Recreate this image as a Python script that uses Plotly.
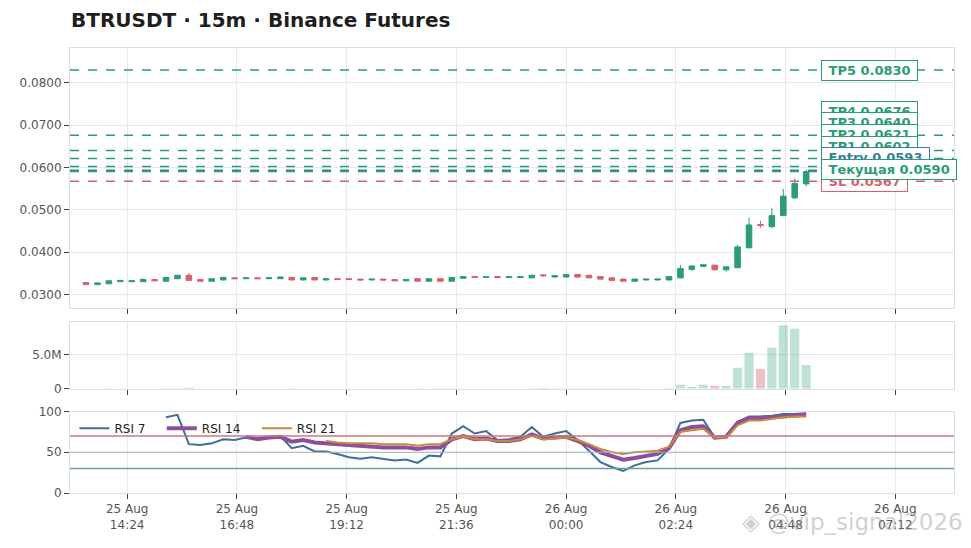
# -*- coding: utf-8 -*-
"""BTRUSDT 15m candles + volume + RSI, signal levels on the right"""
import pandas as pd
import plotly.graph_objects as go
from plotly.subplots import make_subplots

GREEN, RED, BLUE = "#2a9d78", "#d6616b", "#3b7ea1"
GRID, AXIS, TXT = "#e4ebef", "#d6dee3", "#555555"

# ---- data ----
times = pd.date_range("2025-08-25 13:30", periods=64, freq="15min")

opens = [0.0328, 0.0323, 0.0325, 0.0330, 0.0330, 0.0330, 0.0335, 0.0331, 0.0337, 0.0345,
         0.0335, 0.0331, 0.0334, 0.0339, 0.0337, 0.0339, 0.0337, 0.0337, 0.0340, 0.0334,
         0.0340, 0.0334, 0.0337, 0.0337, 0.0336, 0.0334, 0.0336, 0.0335, 0.0332, 0.0337,
         0.0331, 0.0337, 0.0331, 0.0338, 0.0342, 0.0340, 0.0342, 0.0340, 0.0340, 0.0339,
         0.0346, 0.0341, 0.0341, 0.0347, 0.0345, 0.0342, 0.0339, 0.0336, 0.0331, 0.0334,
         0.0334, 0.0334, 0.0339, 0.0359, 0.0366, 0.0369, 0.0358, 0.0363, 0.0410, 0.0465,
         0.0460, 0.0486, 0.0528, 0.0561]
highs = [0.0329, 0.0328, 0.0333, 0.0334, 0.0333, 0.0338, 0.0336, 0.0341, 0.0346, 0.0351,
         0.0336, 0.0338, 0.0341, 0.0340, 0.0340, 0.0340, 0.0340, 0.0342, 0.0341, 0.0340,
         0.0341, 0.0338, 0.0338, 0.0338, 0.0337, 0.0337, 0.0337, 0.0336, 0.0336, 0.0338,
         0.0338, 0.0338, 0.0341, 0.0343, 0.0343, 0.0343, 0.0343, 0.0343, 0.0343, 0.0347,
         0.0348, 0.0346, 0.0348, 0.0348, 0.0346, 0.0343, 0.0340, 0.0337, 0.0337, 0.0337,
         0.0337, 0.0343, 0.0369, 0.0369, 0.0372, 0.0370, 0.0366, 0.0417, 0.0481, 0.0474,
         0.0504, 0.0549, 0.0574, 0.0595]
lows = [0.0322, 0.0322, 0.0324, 0.0329, 0.0329, 0.0329, 0.0331, 0.0330, 0.0336, 0.0332,
        0.0330, 0.0330, 0.0333, 0.0336, 0.0336, 0.0336, 0.0336, 0.0336, 0.0333, 0.0333,
        0.0333, 0.0333, 0.0334, 0.0334, 0.0333, 0.0333, 0.0333, 0.0331, 0.0331, 0.0330,
        0.0330, 0.0330, 0.0330, 0.0337, 0.0339, 0.0339, 0.0339, 0.0339, 0.0339, 0.0338,
        0.0341, 0.0340, 0.0340, 0.0340, 0.0338, 0.0335, 0.0332, 0.0330, 0.0330, 0.0333,
        0.0333, 0.0333, 0.0338, 0.0355, 0.0365, 0.0357, 0.0354, 0.0362, 0.0409, 0.0457,
        0.0456, 0.0485, 0.0525, 0.0555]
closes = [0.0323, 0.0327, 0.0332, 0.0333, 0.0332, 0.0335, 0.0332, 0.0340, 0.0345, 0.0333,
          0.0331, 0.0337, 0.0340, 0.0337, 0.0339, 0.0337, 0.0339, 0.0341, 0.0334, 0.0339,
          0.0334, 0.0337, 0.0335, 0.0335, 0.0334, 0.0336, 0.0334, 0.0332, 0.0335, 0.0331,
          0.0337, 0.0331, 0.0340, 0.0342, 0.0340, 0.0342, 0.0340, 0.0342, 0.0342, 0.0345,
          0.0344, 0.0344, 0.0347, 0.0341, 0.0339, 0.0336, 0.0333, 0.0331, 0.0336, 0.0336,
          0.0336, 0.0342, 0.0361, 0.0367, 0.0370, 0.0358, 0.0365, 0.0412, 0.0464, 0.0463,
          0.0486, 0.0532, 0.0562, 0.0590]
volumes = [35e3, 28e3, 40e3, 22e3, 18e3, 30e3, 15e3, 45e3, 60e3, 150e3,
           30e3, 25e3, 35e3, 20e3, 18e3, 22e3, 15e3, 30e3, 40e3, 25e3,
           35e3, 20e3, 18e3, 15e3, 20e3, 18e3, 22e3, 25e3, 20e3, 40e3,
           35e3, 38e3, 50e3, 30e3, 25e3, 20e3, 22e3, 18e3, 25e3, 60e3,
           120e3, 40e3, 45e3, 50e3, 40e3, 45e3, 50e3, 40e3, 40e3, 25e3,
           30e3, 90e3, 590e3, 300e3, 600e3, 450e3, 420e3, 3.1e6, 5.3e6, 2.9e6,
           6.0e6, 9.3e6, 8.8e6, 3.5e6]

rsi7 = [None] * 7 + [93, 96, 60, 59, 61, 66, 65, 68, 67, 69, 70, 55, 58, 51, 51, 48, 44, 42,
                     44, 42, 40, 41, 37, 46, 45, 73, 82, 73, 76, 65, 66, 69, 81, 69, 73, 76,
                     65, 52, 38, 32, 27, 34, 38, 40, 54, 86, 89, 90, 68, 70, 87, 94, 94, 95,
                     97, 97, 98]
rsi14 = [None] * 14 + [69, 66, 68, 69, 63, 65, 62, 61, 60, 58, 57, 57, 56, 56, 56, 54, 56,
                       56, 66, 70, 66, 67, 64, 64, 66, 72, 67, 68, 69, 64, 58, 50, 45, 41,
                       43, 46, 48, 55, 77, 81, 82, 68, 69, 86, 92, 92, 93, 95, 96, 96]
rsi21 = [None] * 21 + [64, 62, 61, 61, 61, 60, 60, 60, 58, 60, 60, 66, 69, 66, 66, 64, 64,
                       66, 70, 66, 67, 68, 65, 60, 54, 50, 48, 50, 51, 52, 57, 75, 77, 79,
                       68, 68, 83, 89, 89, 91, 93, 94, 94]

# signal levels (draw order: last one on top)
level_names = ["TP5", "TP4", "TP3", "TP2", "TP1", "Entry", "SL", "Текущая"]
level_prices = [0.0830, 0.0676, 0.0640, 0.0621, 0.0602, 0.0593, 0.0567, 0.0590]
level_colors = [GREEN, GREEN, GREEN, GREEN, GREEN, BLUE, RED, GREEN]

vol_ticks = [0, 5e6]
vol_ticktext = ["0", "5.0M"]

# ---- figure ----
fig = make_subplots(rows=3, cols=1, shared_xaxes=True, vertical_spacing=0.03)

fig.add_trace(go.Candlestick(
    x=times, open=opens, high=highs, low=lows, close=closes,
    increasing=dict(line=dict(color=GREEN, width=1), fillcolor=GREEN),
    decreasing=dict(line=dict(color=RED, width=1), fillcolor=RED),
    showlegend=False, name="BTRUSDT",
), row=1, col=1)

bar_colors = ["rgba(42,157,120,0.3)" if c >= o else "rgba(214,97,107,0.4)"
              for o, c in zip(opens, closes)]
fig.add_trace(go.Bar(x=times, y=volumes, marker_color=bar_colors, marker_line_width=0,
                     showlegend=False, name="Volume"), row=2, col=1)

# trailing spaces widen the legend entries a bit
pad = "&nbsp;" * 3
fig.add_trace(go.Scatter(x=times, y=rsi7, mode="lines", name="RSI 7" + pad,
                         line=dict(color="#3d6f9c", width=2)), row=3, col=1)
fig.add_trace(go.Scatter(x=times, y=rsi14, mode="lines", name="RSI 14" + pad,
                         line=dict(color="#8c4f9b", width=4)), row=3, col=1)
fig.add_trace(go.Scatter(x=times, y=rsi21, mode="lines", name="RSI 21" + pad,
                         line=dict(color="#c8893f", width=2)), row=3, col=1)

# RSI guide lines
fig.add_hline(y=70, line=dict(color="#c8787f", width=1.5), row=3, col=1)
fig.add_hline(y=50, line=dict(color="#a3b2ba", width=1), row=3, col=1)
fig.add_hline(y=30, line=dict(color="#6f9e97", width=1.5), row=3, col=1)

# level lines + labels, labels pushed apart so they don't sit on top of each other
price_lo, price_hi = 0.0267, 0.0882
gap = (price_hi - price_lo) * 0.045
label_y = {}
prev = -1.0
for i in sorted(range(len(level_prices)), key=lambda k: level_prices[k]):
    prev = max(level_prices[i], prev + gap)
    label_y[i] = prev

for i, (name, p, col) in enumerate(zip(level_names, level_prices, level_colors)):
    fig.add_hline(y=p, line=dict(color=col, width=1.5, dash="dash"), row=1, col=1)
for i, (name, p, col) in enumerate(zip(level_names, level_prices, level_colors)):
    fig.add_annotation(x=0.85, xref="paper", y=label_y[i], yref="y", xanchor="left",
                       text=f"<b>&nbsp;{name} {p:.4f}&nbsp;</b>", showarrow=False,
                       font=dict(size=13, color=col), bgcolor="white",
                       bordercolor=col, borderwidth=1, borderpad=2)

# watermark
fig.add_annotation(x=1.012, xref="paper", y=-0.098, yref="paper", xanchor="right",
                   text="◈ @vip_signal2026", showarrow=False,
                   font=dict(size=23, color="rgba(150,150,150,0.45)"))

# page body keeps an 8px margin, so the figure is 16px smaller than the window
fig.update_layout(
    title=dict(text="<b>BTRUSDT · 15m · Binance Futures</b>", x=0.066, xanchor="left",
               y=0.9774, yanchor="middle", font=dict(size=20, color="#1e1e1e")),
    width=955, height=532,
    margin=dict(l=62, r=8, t=40, b=41),
    plot_bgcolor="white", paper_bgcolor="white",
    font=dict(family="DejaVu Sans", size=12, color=TXT),
    xaxis_rangeslider_visible=False,
    bargap=0.2,
    legend=dict(orientation="h", x=0.005, y=0.178, xanchor="left", yanchor="top",
                bgcolor="rgba(0,0,0,0)", font=dict(size=12, color="#222")),
    showlegend=True,
)

fig.update_xaxes(range=["2025-08-25 13:09", "2025-08-26 08:29"],
                 tick0="2025-08-26 00:00", dtick=144 * 60 * 1000,
                 tickformat="%d %b<br>%H:%M",
                 showgrid=True, gridcolor=GRID, zeroline=False,
                 showline=True, linecolor=AXIS, mirror=True,
                 ticks="outside", ticklen=5, tickcolor="#444")
fig.update_yaxes(showgrid=True, gridcolor=GRID, zeroline=False,
                 showline=True, linecolor=AXIS, mirror=True,
                 ticks="outside", ticklen=5, tickcolor="#444")

fig.update_yaxes(range=[price_lo, price_hi], dtick=0.01, tickformat=".4f",
                 domain=[0.415, 1.0], row=1, col=1)
fig.update_yaxes(range=[0, max(volumes) * 1.05], tickvals=vol_ticks, ticktext=vol_ticktext,
                 domain=[0.234, 0.384], row=2, col=1)
fig.update_yaxes(range=[0, 100], dtick=50, domain=[0.0, 0.183], row=3, col=1)

fig.write_html("out.html")
